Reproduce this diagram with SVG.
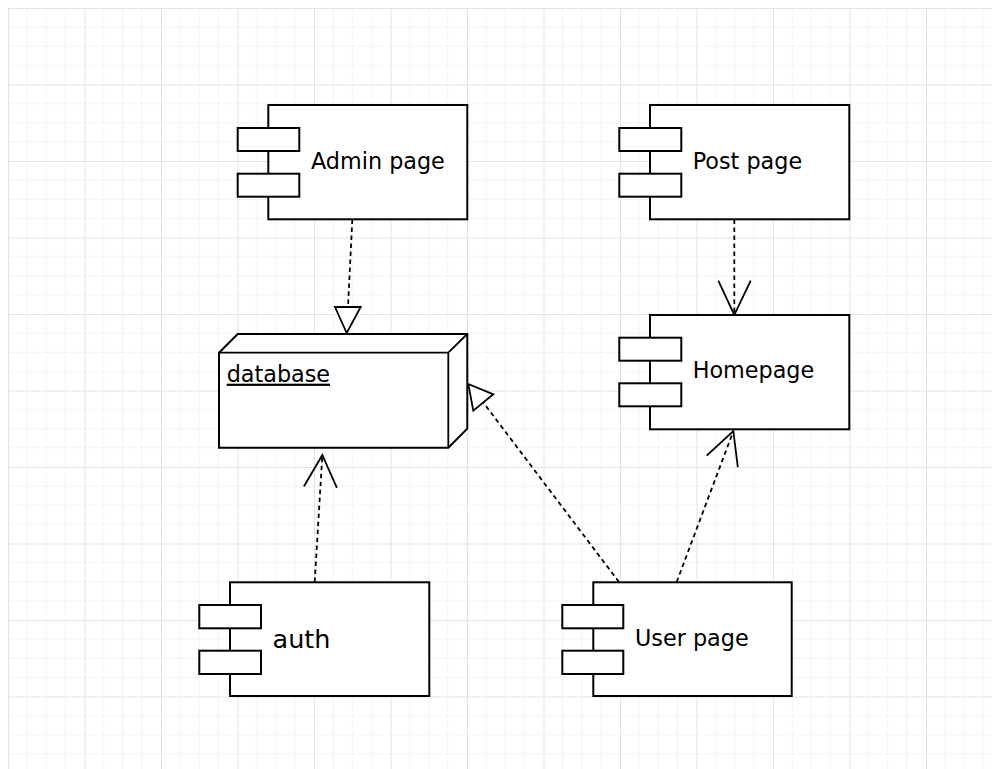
<svg xmlns="http://www.w3.org/2000/svg" width="992" height="769" viewBox="0 0 992 769">
  <defs>
    <pattern id="grid" x="8" y="8" width="76.5" height="76.5" patternUnits="userSpaceOnUse">
      <path d="M19.125 0V76.5M38.25 0V76.5M57.375 0V76.5M0 19.125H76.5M0 38.25H76.5M0 57.375H76.5" stroke="#f3f3f3" stroke-width="1" fill="none"/>
      <path d="M0.5 0V76.5M0 0.5H76.5" stroke="#e3e3e3" stroke-width="1" fill="none"/>
    </pattern>
  </defs>
  <style>
    .box { fill: #ffffff; stroke: #000000; stroke-width: 2; }
    .lbl { font-family: "DejaVu Sans", Verdana, sans-serif; font-size: 22.3px; fill: #000000; }
    .con { fill: none; stroke: #000000; stroke-width: 1.8; stroke-dasharray: 4.5 3.5; }
    .open { fill: none; stroke: #000000; stroke-width: 1.8; }
    .tri { fill: #ffffff; stroke: #000000; stroke-width: 1.8; }
  </style>
  <rect x="0" y="0" width="992" height="769" fill="#ffffff"/>
  <rect x="8" y="8" width="984" height="761" fill="url(#grid)"/>

  <g id="connectors">
    <!-- Admin page -> database -->
    <line class="con" x1="352.3" y1="219.5" x2="348" y2="307"/>
    <polygon class="tri" points="335,307 360.7,307 346.7,333"/>
    <!-- Post page -> Homepage -->
    <line class="con" x1="734.3" y1="219.5" x2="734.3" y2="314"/>
    <polyline class="open" points="718.3,280.7 734.3,315 750.7,280.7"/>
    <!-- auth -> database -->
    <line class="con" x1="314.7" y1="582" x2="322.3" y2="456"/>
    <polyline class="open" points="303.9,486.5 322.3,455 336.9,487.9"/>
    <!-- User page -> database -->
    <line class="con" x1="619" y1="582" x2="483.3" y2="402.5"/>
    <polygon class="tri" points="468.3,384 493.3,394.3 473.3,410.7"/>
    <!-- User page -> Homepage -->
    <line class="con" x1="676.7" y1="582" x2="733" y2="432"/>
    <polyline class="open" points="706.7,455.7 733.3,431 737.8,467.2"/>
  </g>

  <g id="admin-page">
    <rect class="box" x="268.3" y="105" width="199" height="114.3"/>
    <rect class="box" x="237.7" y="128" width="61.6" height="23"/>
    <rect class="box" x="237.7" y="173.7" width="61.6" height="23"/>
    <text class="lbl" x="311" y="169.3">Admin page</text>
  </g>

  <g id="post-page">
    <rect class="box" x="650" y="105" width="199.3" height="114.3"/>
    <rect class="box" x="619.3" y="128" width="62" height="23"/>
    <rect class="box" x="619.3" y="173.7" width="62" height="23"/>
    <text class="lbl" x="692.7" y="169.3">Post page</text>
  </g>

  <g id="homepage">
    <rect class="box" x="650" y="315" width="199.3" height="114.3"/>
    <rect class="box" x="619.3" y="337.7" width="62" height="23"/>
    <rect class="box" x="619.3" y="383.3" width="62" height="23"/>
    <text class="lbl" x="692.7" y="378.3">Homepage</text>
  </g>

  <g id="database">
    <path class="box" d="M219 352.7L237.7 334H467.3V428.7L448.3 447.7H219Z"/>
    <path class="open" d="M219 352.7H448.3L467.3 334M448.3 352.7V447.7" stroke-width="2"/>
    <text class="lbl" x="226.7" y="381.7" text-decoration="underline">database</text>
  </g>

  <g id="auth">
    <rect class="box" x="230" y="582.3" width="199.3" height="113.7"/>
    <rect class="box" x="199.3" y="605" width="61.7" height="23.3"/>
    <rect class="box" x="199.3" y="650.7" width="61.7" height="23.3"/>
    <text class="lbl" x="272.5" y="647.5" style="font-size:25.5px">auth</text>
  </g>

  <g id="user-page">
    <rect class="box" x="593.3" y="582.3" width="198.4" height="113.7"/>
    <rect class="box" x="562.3" y="605" width="61" height="23.3"/>
    <rect class="box" x="562.3" y="650.7" width="61" height="23.3"/>
    <text class="lbl" x="635" y="646">User page</text>
  </g>
</svg>
